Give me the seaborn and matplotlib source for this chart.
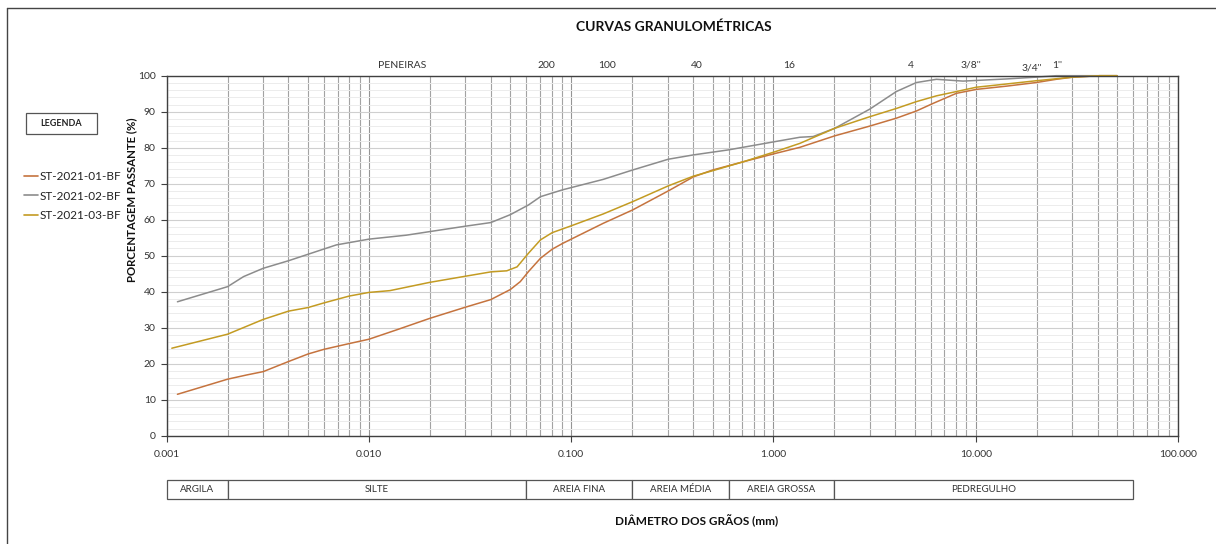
import numpy as np
import pandas as pd
import matplotlib
matplotlib.use("Agg")
import matplotlib.pyplot as plt
import matplotlib.ticker as mticker
from matplotlib.lines import Line2D
from matplotlib.patches import Rectangle
import matplotlib.transforms as mtransforms
import seaborn as sns

# ---------------- data ----------------
series_names = ["ST-2021-01-BF", "ST-2021-02-BF", "ST-2021-03-BF"]
series_colors = ["#C5733E", "#8C8C8C", "#C39B22"]

d01 = [0.00113, 0.002, 0.0025, 0.003, 0.004, 0.005, 0.006, 0.008, 0.010, 0.0137,
       0.020, 0.030, 0.040, 0.050, 0.056, 0.0615, 0.0705, 0.0805, 0.0906, 0.100,
       0.144, 0.201, 0.302, 0.402, 0.50, 0.71, 1.02, 1.35, 2.01, 2.99,
       4.05, 5.09, 6.15, 8.02, 10.07, 14.2, 19.9, 25.0, 30.2, 41.0, 50.0]
p01 = [11.5, 15.7, 16.9, 17.8, 20.6, 22.7, 24.0, 25.6, 26.8, 29.4,
       32.6, 35.7, 37.8, 40.6, 42.8, 45.6, 49.3, 51.8, 53.4, 54.6,
       59.0, 62.7, 68.0, 71.9, 73.8, 76.1, 78.4, 80.1, 83.3, 86.0,
       88.2, 90.2, 92.3, 95.1, 96.2, 97.1, 98.1, 99.0, 99.6, 100.0, 100.0]

d02 = [0.00113, 0.002, 0.0024, 0.003, 0.004, 0.005, 0.0069, 0.010, 0.0153, 0.020,
       0.030, 0.040, 0.050, 0.0615, 0.0705, 0.0906, 0.144, 0.201, 0.302, 0.402,
       0.60, 1.02, 1.35, 1.57, 2.01, 2.99, 4.05, 5.09, 6.39, 8.65,
       14.2, 19.9, 25.0, 50.0]
p02 = [37.2, 41.4, 44.2, 46.5, 48.6, 50.4, 53.0, 54.6, 55.7, 56.7,
       58.2, 59.2, 61.4, 64.1, 66.4, 68.3, 71.2, 73.8, 76.8, 78.0,
       79.4, 81.7, 82.9, 83.1, 85.4, 90.7, 95.6, 98.1, 99.0, 98.5,
       99.1, 99.6, 100.0, 100.0]

d03 = [0.00106, 0.002, 0.003, 0.004, 0.005, 0.006, 0.008, 0.010, 0.0127, 0.020,
       0.030, 0.040, 0.048, 0.054, 0.0615, 0.0705, 0.0805, 0.100, 0.144, 0.201,
       0.302, 0.402, 0.50, 0.71, 1.02, 1.35, 2.01, 2.99, 4.05, 5.09,
       6.39, 10.07, 14.2, 19.9, 30.2, 41.0, 50.0]
p03 = [24.3, 28.2, 32.3, 34.6, 35.6, 36.9, 38.8, 39.8, 40.3, 42.6,
       44.3, 45.5, 45.8, 46.9, 50.7, 54.4, 56.4, 58.3, 61.6, 65.0,
       69.4, 72.1, 73.6, 76.1, 78.9, 81.2, 85.4, 88.6, 90.9, 92.8,
       94.4, 96.8, 97.7, 98.6, 99.6, 100.0, 100.0]

# sieves (label, opening in mm)
sieve_labels = ["200", "100", "40", "16", "4", "3/8''", "3/4''", "1''"]
sieve_mm = [0.075, 0.15, 0.42, 1.2, 4.8, 9.5, 19.0, 25.4]

# soil classes
class_labels = ["ARGILA", "SILTE", "AREIA FINA", "AREIA MÉDIA", "AREIA GROSSA", "PEDREGULHO"]
class_bounds = [0.001, 0.002, 0.06, 0.2, 0.6, 2.0, 60.0]

x_ticks = [0.001, 0.01, 0.1, 1, 10, 100]
x_ticklabels = ["0.001", "0.010", "0.100", "1.000", "10.000", "100.000"]
y_ticks = list(range(0, 101, 10))

# ---------------- style ----------------
sns.set_theme(style="white")
plt.rcParams["font.family"] = ["Lato", "DejaVu Sans"]
plt.rcParams["text.color"] = "#222222"

W, H = 1216, 544
fig = plt.figure(figsize=(W / 100, H / 100), dpi=100)

def fx(px):
    return px / W

def fy(py):
    return (H - py) / H

ax_left, ax_right, ax_top, ax_bot = 166.7, 1178, 75.7, 435.7
ax = fig.add_axes([fx(ax_left), fy(ax_bot), fx(ax_right - ax_left), (ax_bot - ax_top) / H])

df = pd.concat([
    pd.DataFrame({"diam": d01, "pct": p01, "amostra": series_names[0]}),
    pd.DataFrame({"diam": d02, "pct": p02, "amostra": series_names[1]}),
    pd.DataFrame({"diam": d03, "pct": p03, "amostra": series_names[2]}),
])

ax.set_xscale("log")
ax.set_xlim(0.001, 100)
ax.set_ylim(0, 100)

# grid
ax.set_yticks(y_ticks)
ax.yaxis.set_minor_locator(mticker.MultipleLocator(2))
ax.xaxis.set_minor_locator(mticker.LogLocator(base=10, subs=np.arange(2, 10), numticks=20))
ax.grid(which="major", axis="y", color="#cfcfcf", lw=0.8)
ax.grid(which="minor", axis="y", color="#ececec", lw=0.7)
ax.grid(which="major", axis="x", color="#959595", lw=0.8)
ax.grid(which="minor", axis="x", color="#a3a3a3", lw=0.8)
ax.set_axisbelow(True)

sns.lineplot(data=df, x="diam", y="pct", hue="amostra", palette=series_colors,
             estimator=None, sort=False, lw=1.1, ax=ax, legend=False, clip_on=False)

ax.set_xticks(x_ticks)
ax.set_xticklabels(x_ticklabels)
ax.tick_params(axis="both", which="major", labelsize=7.5, length=4, width=0.8,
               color="#404040", labelcolor="#333333", direction="out", pad=4)
ax.tick_params(axis="x", which="minor", length=0)
ax.tick_params(axis="x", which="major", pad=6)
ax.tick_params(axis="y", which="minor", length=0)
ax.tick_params(left=True, bottom=True)
ax.set_xlabel("")
ax.set_ylabel("")
for s in ax.spines.values():
    s.set_color("#404040")
    s.set_linewidth(1.0)

# sieve labels on top
trans = mtransforms.blended_transform_factory(ax.transData, fig.transFigure)
for lab, mm in zip(sieve_labels, sieve_mm):
    yy = 68 if lab == "3/4''" else 65
    ax.text(mm, fy(yy), lab, transform=trans, ha="center", va="center",
            fontsize=7.5, color="#333333")
fig.text(fx(402), fy(65), "PENEIRAS", ha="center", va="center", fontsize=7.5, color="#333333")

# title and axis titles
fig.text(fx(674), fy(27), "CURVAS GRANULOMÉTRICAS", ha="center", va="center",
         fontsize=10, fontweight="bold", color="#111111")
fig.text(fx(132), fy(200), "PORCENTAGEM PASSANTE (%)", ha="center", va="center",
         rotation=90, fontsize=8.2, fontweight="bold", color="#111111")
fig.text(fx(697), fy(521), "DIÂMETRO DOS GRÃOS (mm)", ha="center", va="center",
         fontsize=8.5, fontweight="bold", color="#111111")

# classification bar
ax2 = fig.add_axes([fx(ax_left), fy(499), fx(ax_right - ax_left), 19 / H])
ax2.set_xscale("log")
ax2.set_xlim(0.001, 100)
ax2.set_ylim(0, 1)
lefts = class_bounds[:-1]
widths = [b - a for a, b in zip(class_bounds[:-1], class_bounds[1:])]
bars = ax2.barh([0.5] * len(lefts), widths, left=lefts, height=1.0, color="white",
                edgecolor="#555555", linewidth=0.9)
for b in bars:
    b.set_clip_on(False)
for lab, a, b in zip(class_labels, class_bounds[:-1], class_bounds[1:]):
    ax2.text(np.sqrt(a * b), 0.5, lab, ha="center", va="center", fontsize=7, color="#333333")
ax2.axis("off")

# legend
handles = [Line2D([0], [0], color=c, lw=1.2) for c in series_colors]
leg = fig.legend(handles, series_names, loc="upper left",
                 bbox_to_anchor=(fx(24), fy(171)), bbox_transform=fig.transFigure,
                 frameon=False, fontsize=8.5, handlelength=1.2, handletextpad=0.15,
                 labelspacing=0.72, borderpad=0, borderaxespad=0)
for t in leg.get_texts():
    t.set_color("#222222")

# LEGENDA box
fig.patches.append(Rectangle((fx(26), fy(134)), fx(97 - 26), (134 - 113) / H,
                             transform=fig.transFigure, fill=False, edgecolor="#555555", lw=0.9))
fig.text(fx(61.5), fy(123.5), "LEGENDA", ha="center", va="center", fontsize=6.5,
         fontweight="bold", color="#222222")

# outer frame (top & left)
fig.add_artist(Line2D([fx(7), 1.0], [fy(8), fy(8)], transform=fig.transFigure, color="#444444", lw=1.0))
fig.add_artist(Line2D([fx(7), fx(7)], [fy(8), 0.0], transform=fig.transFigure, color="#444444", lw=1.0))

fig.savefig("out.png", dpi=100, facecolor="white")
